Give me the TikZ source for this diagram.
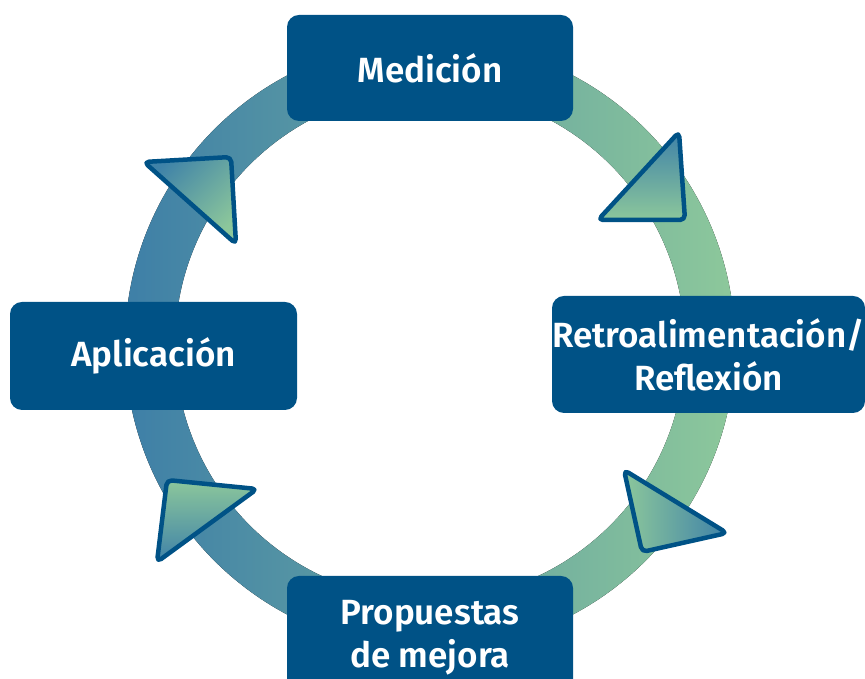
\documentclass[tikz,border=0pt]{standalone}
\usepackage{fontspec}
\setmainfont{Fira Sans}[BoldFont={Fira Sans SemiBold}]
\usetikzlibrary{calc}
\definecolor{boxblue}{HTML}{005286}
\definecolor{ringblue}{HTML}{3E7FA7}
\definecolor{ringgreen}{HTML}{8DC89B}
\definecolor{tipblue}{HTML}{3F82A8}
\definecolor{tipgreen}{HTML}{8CC79B}
\tikzset{
  stage/.style={fill=boxblue, rounded corners=12pt, text=white, inner sep=0pt,
    align=center, font=\fontsize{35}{43}\selectfont\bfseries},
  tip/.style={draw=boxblue, line width=4.5pt, rounded corners=5pt, line join=round}
}

\begin{document}
\begin{tikzpicture}[x=1pt,y=1pt]
\useasboundingbox (0,0) rectangle (865,679);
\coordinate (C) at (430,334);

% ring
\fill[left color=ringblue, right color=ringgreen, even odd rule]
  (C) circle (305) (C) circle (255);

% stages
\node[stage, minimum width=286, minimum height=106] (meas) at (430,611) {Medición};
\node[stage, minimum width=287, minimum height=108] (appl) at (153.5,323) {Aplicación};
\node[stage, minimum width=313, minimum height=117] (retro) at (708.5,324.5)
  {Retroalimentación/\\Reflexión};
\node[stage, minimum width=286, minimum height=124] (prop) at (430,41)
  {Propuestas\\de mejora};

% arrow heads
\coordinate (a1) at (144,517);
\coordinate (a2) at (231,522);
\coordinate (a3) at (236,435);
\draw[tip, top color=tipblue, bottom color=tipgreen, shading angle=45]
  (a1)--(a2)--(a3)--cycle;

\coordinate (b1) at (679,547);
\coordinate (b2) at (598,459);
\coordinate (b3) at (685,459);
\draw[tip, top color=tipblue, bottom color=tipgreen]
  (b1)--(b2)--(b3)--cycle;

\coordinate (c1) at (624,209);
\coordinate (c2) at (727,146);
\coordinate (c3) at (642,127);
\draw[tip, left color=tipgreen, right color=tipblue]
  (c1)--(c2)--(c3)--cycle;

\coordinate (d1) at (167,199);
\coordinate (d2) at (257,190);
\coordinate (d3) at (157,117);
\draw[tip, top color=tipgreen, bottom color=tipblue]
  (d1)--(d2)--(d3)--cycle;
\end{tikzpicture}
\end{document}
